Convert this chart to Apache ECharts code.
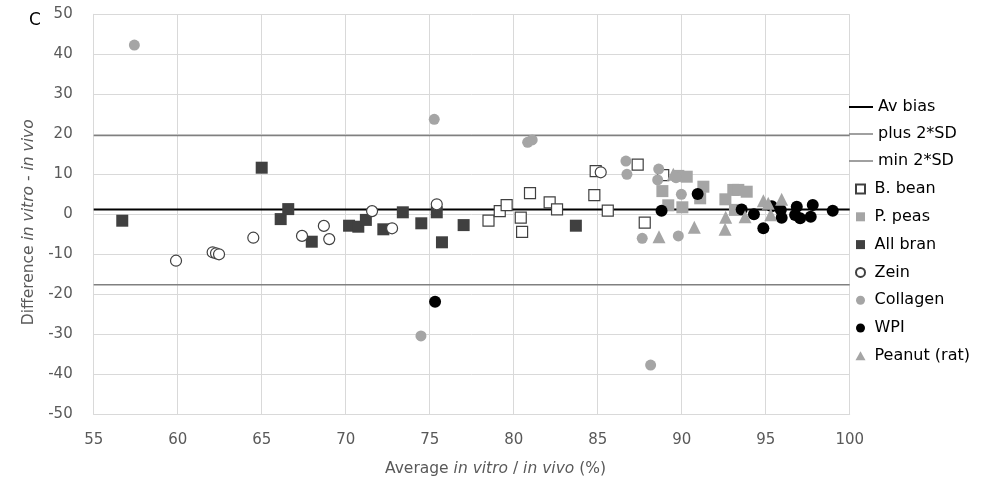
<!DOCTYPE html>
<html>
<head>
<meta charset="utf-8">
<script src="https://cdn.jsdelivr.net/npm/echarts@6/dist/echarts.min.js"></script>
<style>
  html, body { margin: 0; padding: 0; background: #fff; }
  #chart { width: 989px; height: 482px; }
</style>
</head>
<body>
<div id="chart"></div>
<script>
// Bland-Altman style plot: in vitro vs in vivo digestibility, panel C.
// Every point is [average %, difference].
const avBias = 1.2;
const plus2SD = 19.7;
const min2SD = -17.6;

const bBean = [
  [78.5, -1.6], [79.17, 0.8], [79.58, 2.3], [80.42, -0.85], [80.5, -4.4], [80.97, 5.3],
  [82.14, 3.0], [82.58, 1.25], [84.8, 4.8], [84.88, 10.8], [85.6, 0.9], [87.38, 12.4],
  [87.8, -2.1], [88.9, 9.8]
];
const pPeas = [
  [88.85, 5.8], [89.2, 2.25], [89.8, 9.6], [90.3, 9.4], [90.04, 1.75], [91.29, 6.9],
  [91.1, 4.0], [92.6, 3.75], [93.07, 6.1], [93.37, 6.1], [93.87, 5.65], [93.17, 1.1]
];
const allBran = [
  [56.7, -1.6], [65.0, 11.65], [66.13, -1.2], [66.58, 1.3], [67.98, -6.85], [70.2, -2.85],
  [70.75, -3.1], [71.2, -1.4], [72.24, -3.75], [73.4, 0.5], [74.5, -2.25], [75.42, 0.5],
  [75.73, -7.0], [77.02, -2.7], [83.7, -2.85]
];
const zein = [
  [59.9, -11.6], [62.08, -9.5], [62.28, -9.75], [62.46, -10.0], [64.5, -5.85], [67.4, -5.4],
  [68.7, -2.9], [69.02, -6.2], [71.57, 0.8], [72.76, -3.5], [75.42, 2.5], [85.18, 10.5]
];
const collagen = [
  [57.42, 42.3], [75.27, 23.75], [74.48, -30.4], [80.83, 18.0], [81.1, 18.6], [86.68, 13.3],
  [86.74, 10.0], [87.65, -6.0], [88.63, 11.3], [88.57, 8.6], [89.66, 9.15], [89.98, 5.0],
  [89.8, -5.4], [88.15, -37.7]
];
const wpi = [
  [75.32, -21.85], [88.8, 0.9], [90.95, 5.1], [93.57, 1.2], [94.3, 0.0], [94.86, -3.5],
  [95.36, 2.0], [95.9, 1.1], [95.95, -0.85], [96.85, 1.9], [96.75, -0.2], [97.05, -1.0],
  [97.8, 2.3], [97.68, -0.6], [98.99, 0.9]
];
const peanut = [
  [88.65, -5.6], [89.5, 10.0], [90.75, -3.25], [92.62, -0.75], [92.58, -3.75], [93.77, -0.6],
  [94.86, 3.4], [95.15, 2.75], [95.3, -0.1], [95.95, 3.75]
];

const xMin = 55, xMax = 100;
const font = 'DejaVu Sans';
const SQUARE = 'path://M0,0h10v10h-10z';
const TRIANGLE = 'path://M5,0L10,9L0,9z';

const hLine = (name, y, color, width, withLabel) => ({
  name, type: 'line', data: [[xMin, y], [xMax, y]], showSymbol: false, symbol: 'none',
  lineStyle: { color, width }, itemStyle: { color }, silent: true, z: 1,
  label: withLabel ? {
    show: true, position: [9, -24], formatter: (p) => (p.dataIndex === 0 ? 'bias 1.2 %' : ''),
    fontFamily: font, fontSize: 15.5, color: '#000'
  } : undefined
});

const scat = (name, data, symbol, size, fill, border) => ({
  name, type: 'scatter', data, symbol, symbolSize: size, z: 3,
  itemStyle: { color: fill, borderColor: border || fill, borderWidth: border ? 1.2 : 0, opacity: 1 }
});

const rich = {
  n: { fontFamily: font, fontSize: 15.5, color: '#595959', fontWeight: 'normal' },
  i: { fontFamily: font, fontSize: 15.5, color: '#595959', fontStyle: 'italic', fontWeight: 'normal' }
};

const chart = echarts.init(document.getElementById('chart'), null, { renderer: 'canvas' });
chart.setOption({
  animation: false,
  textStyle: { fontFamily: font },
  title: [
    { text: 'C', left: 24, top: 7, textStyle: { fontFamily: font, fontSize: 17, fontWeight: 'normal', color: '#000' } },
    {
      text: '{n|Average }{i|in vitro}{n| / }{i|in vivo}{n| (%)}', left: 380, top: 456,
      textStyle: { rich }
    }
  ],
  grid: { left: 93.7, right: 139.3, top: 14.3, bottom: 67.7 },
  xAxis: {
    type: 'value', min: xMin, max: xMax, interval: 5,
    axisLine: { show: true, onZero: false, lineStyle: { color: '#d9d9d9' } },
    axisTick: { show: false },
    axisLabel: { fontFamily: font, fontSize: 15, color: '#595959', margin: 18 },
    splitLine: { show: true, lineStyle: { color: '#d9d9d9', width: 1 } }
  },
  yAxis: {
    type: 'value', min: -50, max: 50, interval: 10,
    name: '{n|Difference }{i|in vitro}{n| - }{i|in vivo}',
    nameLocation: 'middle', nameRotate: 90, nameGap: 54,
    nameTextStyle: { padding: [0, 16, 0, 0], rich },
    axisLine: { show: true, onZero: false, lineStyle: { color: '#d9d9d9' } },
    axisTick: { show: false },
    axisLabel: { fontFamily: font, fontSize: 15, color: '#595959', margin: 21 },
    splitLine: { show: true, lineStyle: { color: '#d9d9d9', width: 1 } }
  },
  legend: [
    {
      orient: 'vertical', left: 844, top: 94, itemWidth: 24, itemHeight: 10, itemGap: 11,
      data: [
        { name: 'Av bias', icon: 'path://M0,0h24v2h-24z' },
        { name: 'plus 2*SD', icon: 'path://M0,0h24v1.5h-24z' },
        { name: 'min 2*SD', icon: 'path://M0,0h24v1.5h-24z' }
      ],
      itemStyle: { borderWidth: 0 },
      textStyle: { fontFamily: font, fontSize: 16, color: '#000' }
    },
    {
      orient: 'vertical', left: 850, top: 176, itemWidth: 18, itemHeight: 9, itemGap: 11.8,
      data: [
        { name: 'B. bean', icon: SQUARE },
        { name: 'P. peas', icon: SQUARE },
        { name: 'All bran', icon: SQUARE },
        { name: 'Zein', icon: 'circle' },
        { name: 'Collagen', icon: 'circle' },
        { name: 'WPI', icon: 'circle' },
        { name: 'Peanut (rat)', icon: TRIANGLE }
      ],
      textStyle: { fontFamily: font, fontSize: 16, color: '#000' }
    }
  ],
  series: [
    hLine('Av bias', avBias, '#000000', 2, true),
    hLine('plus 2*SD', plus2SD, '#808080', 1.5),
    hLine('min 2*SD', min2SD, '#808080', 1.5),
    scat('B. bean', bBean, 'rect', 11, '#ffffff', '#404040'),
    scat('P. peas', pPeas, 'rect', 12, '#a5a5a5'),
    scat('All bran', allBran, 'rect', 12, '#404040'),
    scat('Zein', zein, 'circle', 11, '#ffffff', '#404040'),
    scat('Collagen', collagen, 'circle', 11, '#a5a5a5'),
    scat('WPI', wpi, 'circle', 12, '#000000'),
    scat('Peanut (rat)', peanut, 'triangle', 13, '#a5a5a5')
  ]
});
</script>
</body>
</html>
